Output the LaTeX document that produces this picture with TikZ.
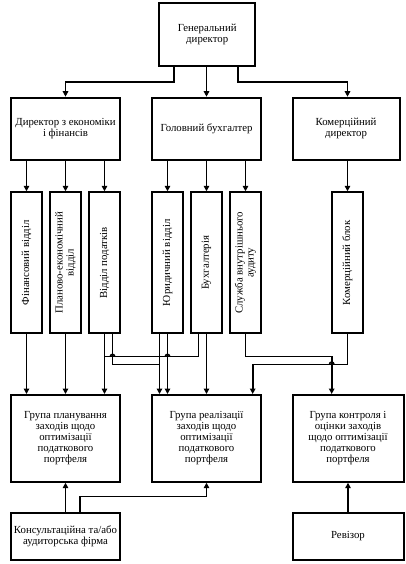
\documentclass[tikz,border=0pt]{standalone}
\usepackage{fontspec}
\setmainfont{Liberation Serif}
\usepackage{tikz}
\usetikzlibrary{arrows.meta,positioning,calc}

\begin{document}
\begin{tikzpicture}[x=1pt,y=-1pt,font=\fontsize{10.8}{11}\selectfont,
  blk/.style={draw,line width=2pt,align=center,inner sep=1pt,
    minimum width=109.6pt,minimum height=62.3pt},
  vbox/.style={draw,line width=2pt,inner sep=0pt,
    minimum width=31.6pt,minimum height=141pt},
  vtext/.style={rotate=90,align=center,inner sep=0pt},
  wire/.style={line width=1.6pt},
  conn/.style={wire,-{Triangle[length=5.5pt,width=5.5pt]}}]
  \useasboundingbox (0,0) rectangle (406,564);

  % management
  \node[blk,minimum width=95.7pt] (gd) at (207.2,34.5) {Генеральний\\директор};
  \node[blk] (de) at (65.5,128.85) {Директор з економіки\\і фінансів};
  \node[blk] (hb) at (206.5,128.85) {Головний бухгалтер};
  \node[blk,minimum width=107pt] (kd) at (346,128.85) {Комерційний\\директор};

  % departments
  \foreach \nm/\xx/\txt in {fv/26.5/{Фінансовий відділ},
      pe/65.5/{Планово-економічний\\відділ},
      vp/104.5/{Відділ податків},
      yv/167.5/{Юридичний відділ},
      bu/206.5/{Бухгалтерія},
      sa/245.5/{Служба внутрішнього\\аудиту},
      kb/347.5/{Комерційний блок}} {
    \node[vbox] (\nm) at (\xx,262.8) {};
    \node[vtext] (\nm t) at (\nm) {\txt};
  }

  % groups
  \node[blk,minimum height=86.7pt] (gp) at (65.5,438.35)
    {Група планування\\заходів щодо\\оптимізації\\податкового\\портфеля};
  \node[blk,minimum height=86.7pt] (gr) at (206.5,438.35)
    {Група реалізації\\заходів щодо\\оптимізації\\податкового\\портфеля};
  \node[blk,minimum height=86.7pt,minimum width=111pt] (gk) at (348,438.35)
    {Група контроля і\\оцінки заходів\\щодо оптимізації\\податкового\\портфеля};
  \node[blk,minimum height=47.3pt] (kf) at (65.5,536.35)
    {Консультаційна та/або\\аудиторська фірма};
  \node[blk,minimum height=47.3pt,minimum width=111pt] (rv) at (348,536.35) {Ревізор};

  % top level links
  \draw[conn] ([xshift=-33pt]gd.south) -- ++(0,15.3) -| (de.north);
  \draw[conn] (hb.north |- gd.south) -- (hb.north);
  \draw[conn] ([xshift=30.5pt]gd.south) -- ++(0,15.3) -| (kb.north |- kd.north);
  \foreach \up/\dn in {de/fv,de/pe,de/vp,hb/yv,hb/bu,hb/sa,kd/kb}
    \draw[conn] (\dn.north |- \up.south) -- (\dn.north);

  % departments to groups
  \foreach \up/\dn in {fv/gp,pe/gp,vp/gp,yv/gr,bu/gr}
    \draw[conn] (\up.south) -- (\up.south |- \dn.north);
  \coordinate (vp2) at ([xshift=8pt]vp.south);
  \coordinate (yv2) at ([xshift=-8pt]yv.south);
  \coordinate (gk2) at ([xshift=-16.3pt]gk.north);
  \coordinate (jv) at ([yshift=-30pt]yv2);
  \coordinate (jb) at ([xshift=-8pt,yshift=-22.3pt]bu.south);
  \coordinate (js) at ([yshift=-22.3pt]sa.south);
  \coordinate (jk) at ([yshift=-30pt]kb.south);
  \draw[conn] (yv2) -- (yv2 |- gr.north);
  \draw[wire] (vp2) |- (jv);
  \draw[wire] ([xshift=-8pt]bu.south) -- (jb) -- (jb -| vp.south);
  \draw[conn] (sa.south) -- (js) -| (gk2);
  \draw[conn] (kb.south) -- (jk) -| ([xshift=46.2pt]gr.north);
  % line jumps
  \foreach \c in {vp2,yv}
    \draw[wire] (jb -| \c) ++(-2.2pt,0pt) arc[start angle=180,end angle=0,radius=2.2pt];
  \draw[wire] (jk -| gk2) ++(-2.2pt,0pt) arc[start angle=180,end angle=0,radius=2.2pt];

  % outside support
  \draw[conn] (kf.north) -- (gp.south);
  \draw[conn] ([xshift=14.5pt]kf.north) -- ++(0,-15.4) -| (gr.south);
  \draw[conn] (rv.north) -- (gk.south);
\end{tikzpicture}
\end{document}
